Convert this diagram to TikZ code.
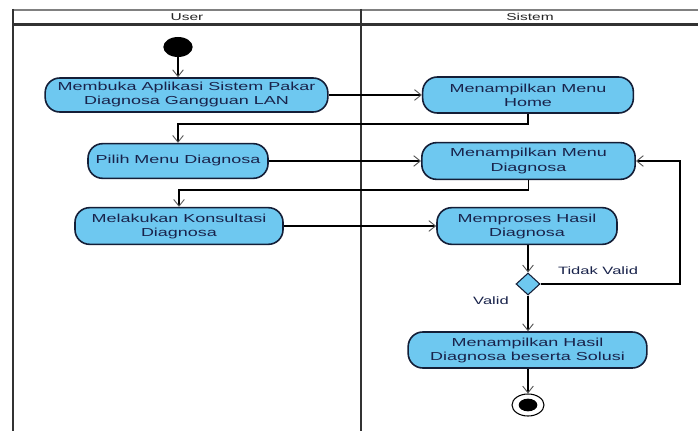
\documentclass[tikz,border=0pt]{standalone}
\usepackage{fontspec}
\setmainfont{Liberation Sans}[FakeStretch=1.55]
\usetikzlibrary{arrows.meta,shapes.geometric}
\definecolor{actfill}{RGB}{110,200,240}
\definecolor{actline}{RGB}{20,30,55}
\definecolor{txt}{RGB}{25,35,75}
\definecolor{frameline}{RGB}{50,50,50}

\begin{document}
\begin{tikzpicture}[x=0.75pt,y=-0.75pt,
  act/.style={draw=actline,line width=1.2pt,fill=actfill,rounded corners=11pt,
    align=center,text=txt,font=\fontsize{8.7}{10.5}\selectfont,inner sep=0pt},
  flow/.style={line width=1.3pt,draw=black,
    -{Straight Barb[length=5pt,width=8pt,line width=0.7pt,color=black!65]}},
  lane/.style={font=\fontsize{7.5}{9}\selectfont,text=black!85},
  guard/.style={font=\fontsize{8}{10}\selectfont,text=txt},
  decision/.style={diamond,draw=actline,line width=0.8pt,fill=actfill,
    minimum width=18pt,minimum height=16.5pt,inner sep=0pt}]

\fill[white] (0,0) rectangle (698,431);
\useasboundingbox (0,0) rectangle (698,431);

% swimlane frame
\draw[line width=2pt,draw=black!50] (12,10) -- (698,10);
\draw[line width=1.6pt,draw=frameline] (12,24.5) -- (698,24.5);
\draw[line width=1.8pt,draw=frameline] (13,9) -- (13,431);
\draw[line width=1.8pt,draw=frameline] (361,9) -- (361,431);
\node[lane] (laneU) at (187,17) {User};
\node[lane] (laneS) at (530,17) {Sistem};

% start and end markers
\node[ellipse,fill=black,minimum width=22pt,minimum height=15pt,inner sep=0pt] (start) at (178,47) {};
\node[ellipse,draw=black,line width=0.8pt,fill=white,minimum width=24pt,minimum height=16.5pt,inner sep=0pt] (stop) at (528,405) {};
\node[ellipse,fill=black,minimum width=14pt,minimum height=9.5pt,inner sep=0pt] (stopdot) at (528,405) {};

% activities
\node[act,minimum width=212pt,minimum height=25.5pt] (n1) at (186.5,95) {Membuka Aplikasi Sistem Pakar\\Diagnosa Gangguan LAN};
\node[act,minimum width=158pt,minimum height=27pt] (n2) at (528,95) {Menampilkan Menu\\Home};
\node[act,minimum width=135pt,minimum height=26pt] (n3) at (178,161) {Pilih Menu Diagnosa};
\node[act,minimum width=160pt,minimum height=27.5pt] (n4) at (528.5,161) {Menampilkan Menu\\Diagnosa};
\node[act,minimum width=156pt,minimum height=27.5pt] (n5) at (179,226) {Melakukan Konsultasi\\Diagnosa};
\node[act,minimum width=135pt,minimum height=27.5pt] (n6) at (527,226) {Memproses Hasil\\Diagnosa};
\node[decision] (dec) at (528,284) {};
\node[act,minimum width=179pt,minimum height=27pt] (n7) at (527.5,350) {Menampilkan Hasil\\Diagnosa beserta Solusi};
\coordinate (back) at (680,161);

% flows
\draw[flow] (start) -- (start |- n1.north);
\draw[flow] (n1.east) -- (n2.west);
\draw[flow] (n2.south) -- ++(0,10) -| (n3.north);
\draw[flow] (n3.east) -- (n4.west);
\draw[flow] (n4.south) -- ++(0,10) -| (n5.north);
\draw[flow] (n5.east) -- (n6.west);
\draw[flow] (n6.south -| dec.north) -- (dec.north);
\draw[flow] (dec.east) -| (back) -- (n4.east);
\draw[flow] (dec.south) -- (dec.south |- n7.north);
\draw[flow] (n7.south -| stop.north) -- (stop.north);

% guards
\node[guard] (gno) at (598,271) {Tidak Valid};
\node[guard] (gyes) at (491,301) {Valid};
\end{tikzpicture}
\end{document}
